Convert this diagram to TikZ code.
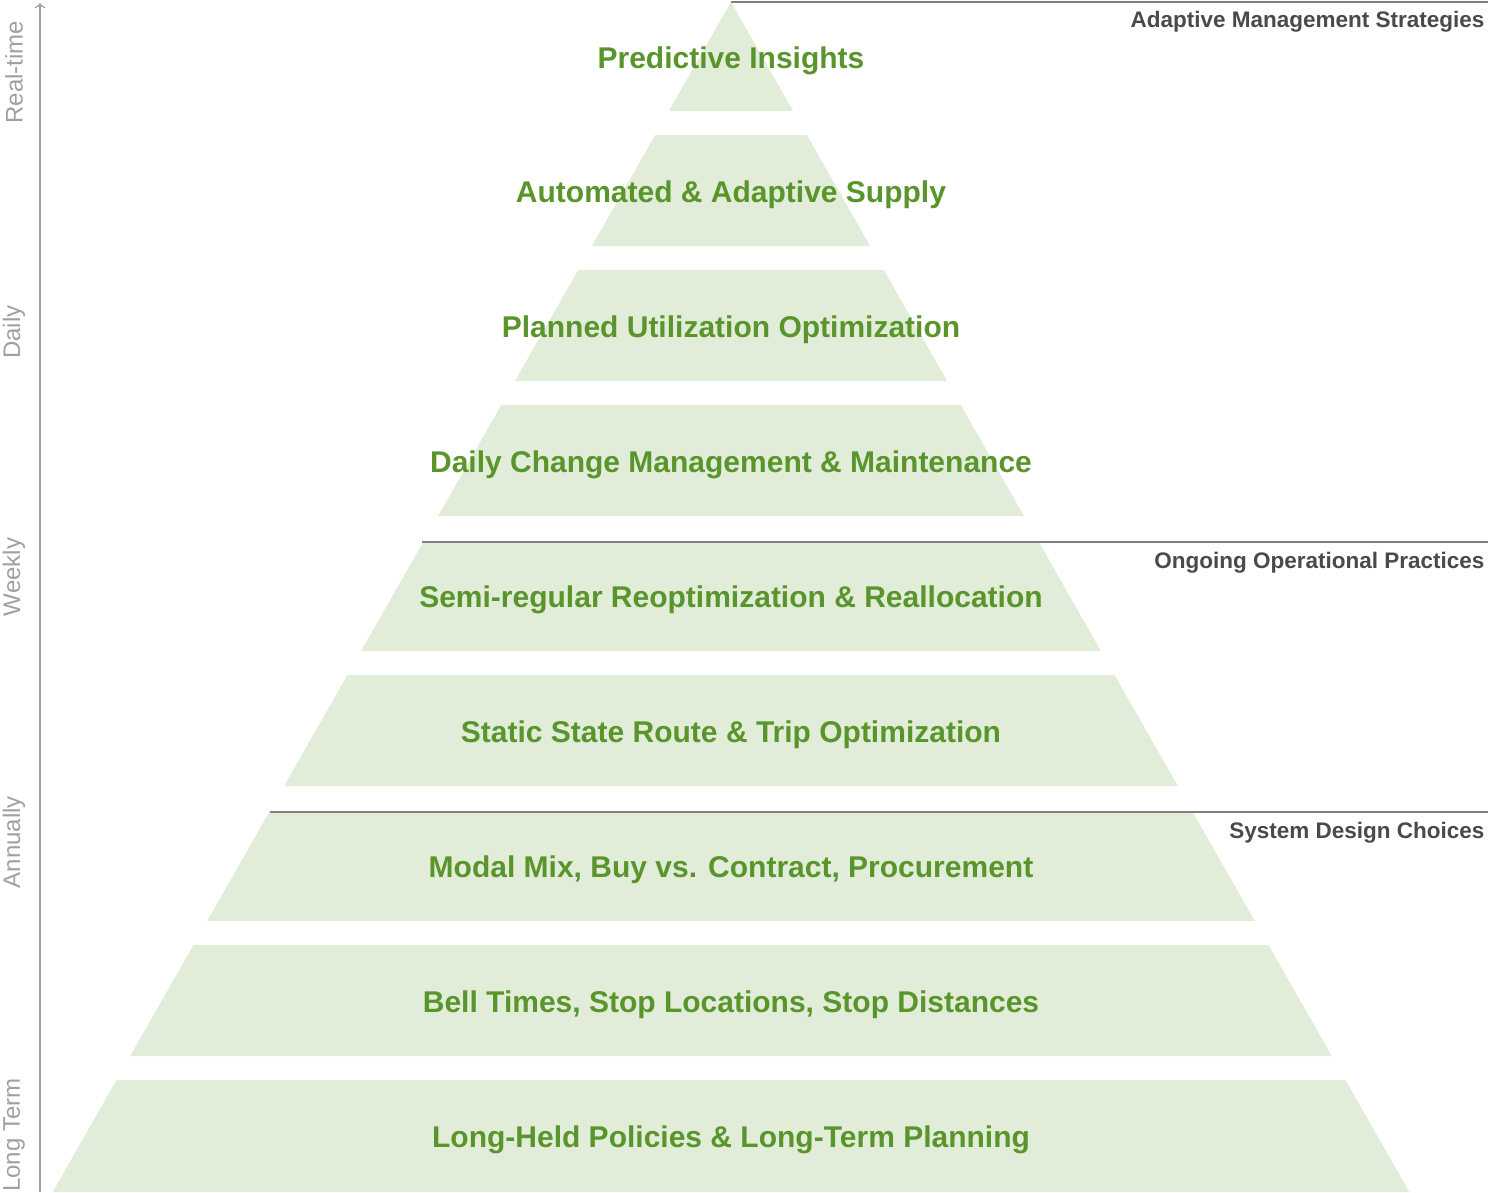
\documentclass[tikz,border=0pt]{standalone}
\usepackage{fontspec}
\usetikzlibrary{arrows.meta}
\setmainfont{Liberation Sans}
\definecolor{bandfill}{HTML}{E2EDD9}
\definecolor{bandtext}{HTML}{5A952C}
\definecolor{hdr}{HTML}{4A4A4A}
\definecolor{axisgray}{HTML}{A0A0A0}
\tikzset{x=1pt,y=-1pt,
 band/.style={fill=bandfill,draw=none},
 bandlabel/.style={text=bandtext,font=\fontsize{30}{33}\selectfont\bfseries,anchor=center},
 hdrlabel/.style={text=hdr,font=\fontsize{22.5}{25}\selectfont\bfseries,anchor=east},
 axlabel/.style={text=axisgray,font=\fontsize{24}{26}\selectfont,rotate=90,anchor=center},
 sep/.style={draw=gray,line width=1.2pt}}
\begin{document}
\begin{tikzpicture}
\useasboundingbox (0,0) rectangle (1488,1192);
\def\s{0.57}
\foreach \t/\b/\lab [count=\i] in {2/111/Predictive Insights,135/246/Automated \& Adaptive Supply,270/381/Planned Utilization Optimization,405/516/Daily Change Management \& Maintenance,541/651/Semi-regular Reoptimization \& Reallocation,675/786/Static State Route \& Trip Optimization,811/921/{Modal Mix, Buy vs. Contract, Procurement},945/1056/{Bell Times, Stop Locations, Stop Distances},1080/1192/Long-Held Policies \& Long-Term Planning}{
 \path[band] ({731-\s*(\t-2)},\t) -- ({731+\s*(\t-2)},\t) -- ({731+\s*(\b-2)},\b) -- ({731-\s*(\b-2)},\b) -- cycle;
 \node[bandlabel] (b\i) at (731,{(\t+\b)/2+4}) {\lab};
}
\coordinate (l1a) at (731,2); \coordinate (l1b) at (1488,2);
\coordinate (l2a) at (422,542); \coordinate (l2b) at (1488,542);
\coordinate (l3a) at (270,812); \coordinate (l3b) at (1488,812);
\draw[sep] (l1a) -- (l1b);
\draw[sep] (l2a) -- (l2b);
\draw[sep] (l3a) -- (l3b);
\node[hdrlabel] (h1) at (1488,22) {Adaptive Management Strategies};
\node[hdrlabel] (h2) at (1488,563) {Ongoing Operational Practices};
\node[hdrlabel] (h3) at (1488,833) {System Design Choices};
\coordinate (ax0) at (40,1192); \coordinate (ax1) at (40,3);
\draw[axisgray,line width=1.2pt,-{To[length=5pt]}] (ax0) -- (ax1);
\node[axlabel] (a1) at (14,72) {Real-time};
\node[axlabel] (a2) at (14,332) {Daily};
\node[axlabel] (a3) at (14,577) {Weekly};
\node[axlabel] (a4) at (14,842) {Annually};
\node[axlabel] (a5) at (14,1135) {Long Term};
\end{tikzpicture}
\end{document}
